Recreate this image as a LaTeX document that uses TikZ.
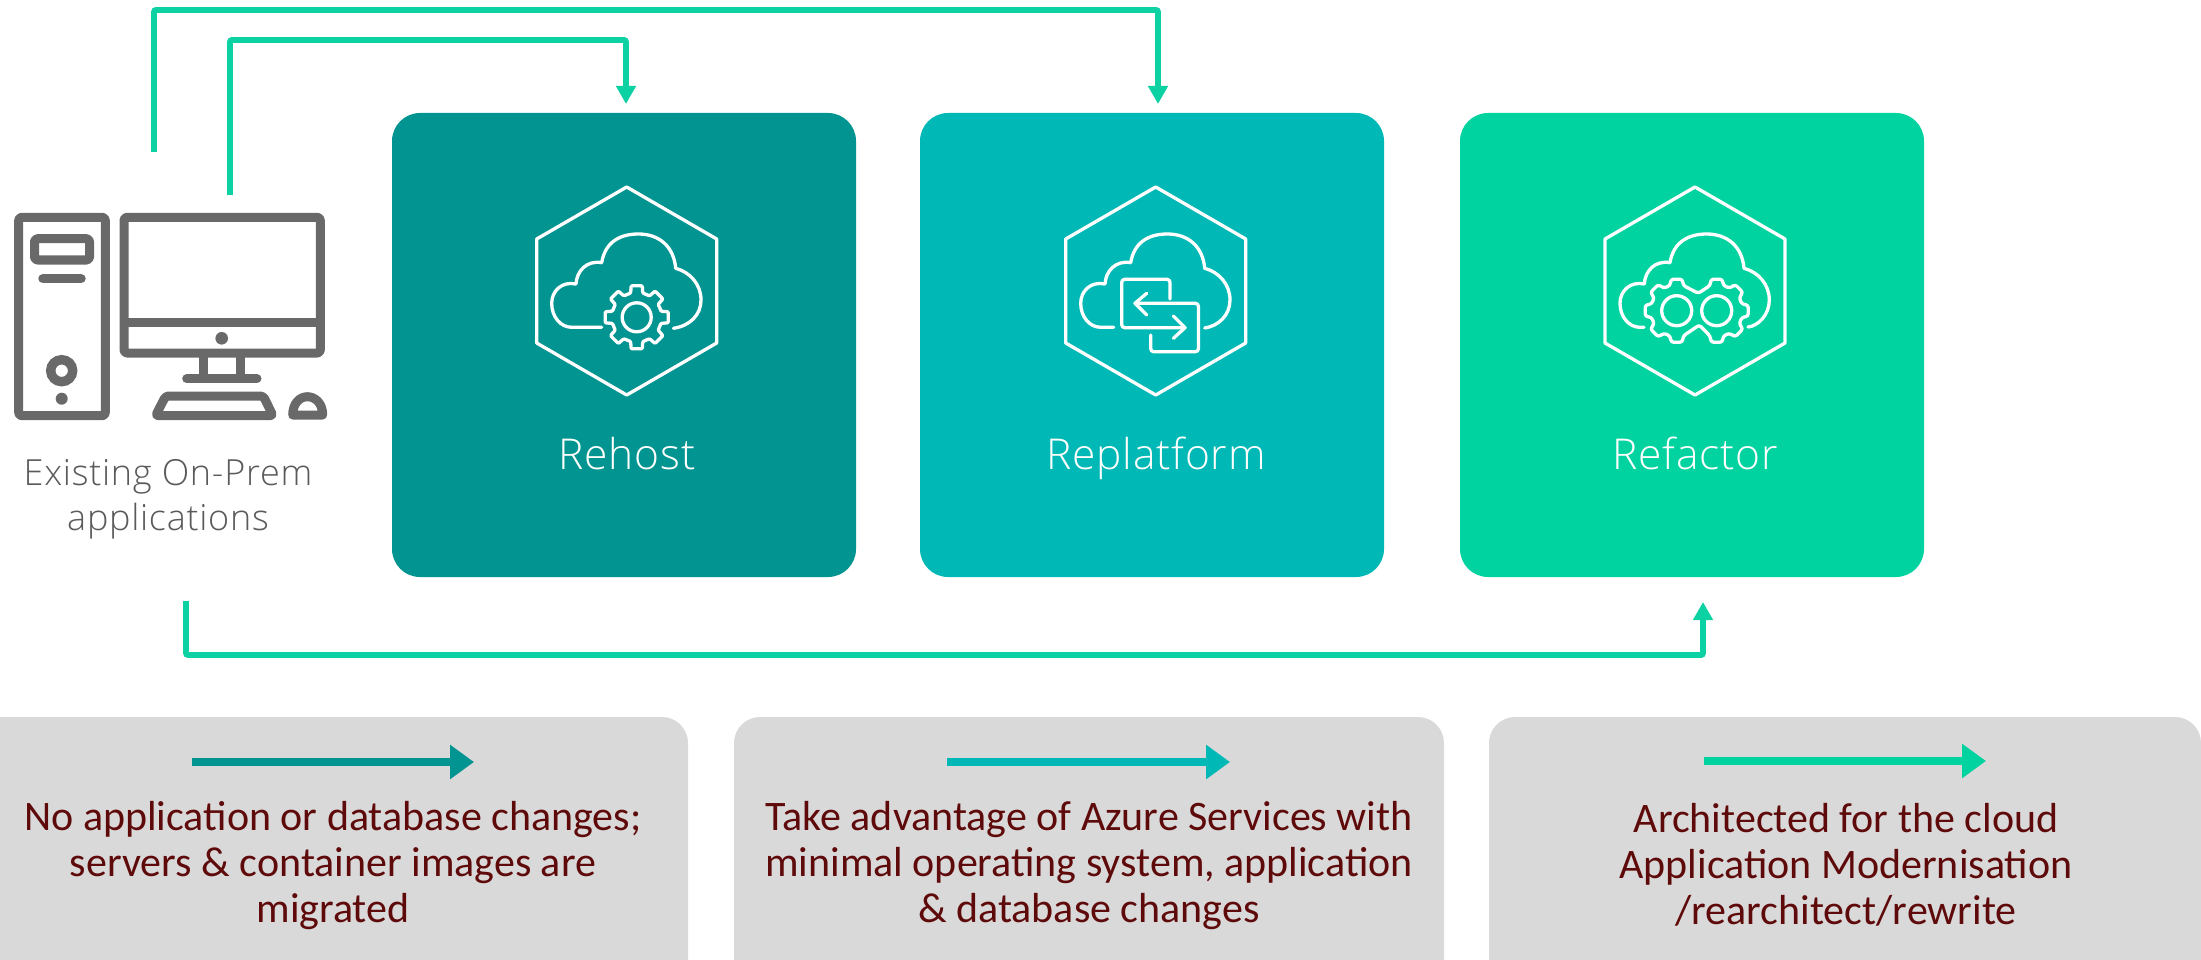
\documentclass[tikz,border=0pt]{standalone}
\usepackage{fontspec}
\setmainfont{Carlito}
\newfontfamily\lightfont[LetterSpace=2]{Open Sans Light}
\usetikzlibrary{arrows.meta,calc}
\definecolor{linegreen}{HTML}{0BD1A3}
\definecolor{teala}{HTML}{029490}
\definecolor{tealb}{HTML}{00B8B5}
\definecolor{tealc}{HTML}{00D3A0}
\definecolor{panelgrey}{HTML}{D9D9D9}
\definecolor{darkred}{HTML}{5F0A0A}
\definecolor{icongrey}{HTML}{696969}
\definecolor{labelgrey}{HTML}{5A5A5A}
\tikzset{
  x=1pt,y=-1pt,
  mainbox/.style={rounded corners=28pt,minimum width=464pt,minimum height=464pt,inner sep=0pt,outer sep=0pt},
  panel/.style={fill=panelgrey,rounded corners=26pt,draw=none},
  routeline/.style={draw=linegreen,line width=5.8pt,rounded corners=2pt,-{Triangle[length=18pt,width=19pt]}},
  legendarrow/.style={line width=8pt,-{Triangle[length=24pt,width=33pt,sep=0pt]}},
  iconline/.style={draw=white,line width=3.3pt,line join=round,line cap=round},
  pcline/.style={draw=icongrey,line width=9pt,line join=round,rounded corners=3pt},
  boxlabel/.style={text=white,font=\lightfont\fontsize{42.5}{48}\selectfont,inner sep=0pt,anchor=base},
  paneltext/.style={text=darkred,font=\fontsize{42}{46}\selectfont,align=center,inner sep=0pt},
  pclabel/.style={text=labelgrey,font=\lightfont\fontsize{36}{45}\selectfont,align=center,inner sep=0pt},
}
\newcommand{\hexagonicon}{\draw[iconline] (0,-104) -- (90,-52) -- (90,52) -- (0,104) -- (-90,52) -- (-90,-52) -- cycle;}
\newcommand{\cloudicon}[3]{\draw[iconline] (#1,#2) .. controls (63,35) and (74.3,24) .. (74.3,9) .. controls (74.3,-7) and (63,-19) .. (49,-22.7) .. controls (47,-45) and (32,-57) .. (11.7,-57) .. controls (-9,-57) and (-22,-47) .. (-25,-28.3) .. controls (-40,-31) and (-50,-20) .. (-50.7,-7) .. controls (-65,-10) and (-75,0) .. (-75,12.3) .. controls (-75,26) and (-66,36.3) .. (-55,36.3) -- (#3,36.3);}
\begin{document}
\begin{tikzpicture}
\useasboundingbox (0,0) rectangle (2201,960);
\clip (0,0) rectangle (2201,960);

% main boxes
\node[mainbox,fill=teala] (rehost) at (624,345) {};
\node[mainbox,fill=tealb] (replatform) at (1152,345) {};
\node[mainbox,fill=tealc] (refactor) at (1692,345) {};
\node[boxlabel] (rehosttext) at (627,469) {Rehost};
\node[boxlabel] (replatformtext) at (1156,469) {Replatform};
\node[boxlabel] (refactortext) at (1695,469) {Refactor};

% rehost icon
\begin{scope}[shift={(626.7,291)}]
  \hexagonicon
  \cloudicon{46.7}{37.3}{-25}
  \begin{scope}[shift={(10,26.3)}]
    \draw[iconline,rounded corners=1pt] (-20:25) \foreach \a in {0,45,...,315} { -- (\a-14:25) -- (\a-10:32) -- (\a+10:32) -- (\a+14:25) } -- cycle;
    \draw[iconline] (0,0) circle[radius=14.5pt];
  \end{scope}
\end{scope}

% replatform icon
\begin{scope}[shift={(1155.7,291)}]
  \hexagonicon
  \cloudicon{49}{37}{-42}
  \draw[iconline,rounded corners=3pt] (14.3,8) -- (14.3,-11.7) -- (-34,-11.7) -- (-34,36.7) -- (29.3,36.7);
  \draw[iconline,rounded corners=3pt] (-20.7,12.3) -- (42.7,12.3) -- (42.7,60.7) -- (-5,60.7) -- (-5,44);
  \draw[iconline] (-9,2.3) -- (-20.7,12.3) -- (-9,24);
  \draw[iconline] (17.7,25) -- (29.3,36.7) -- (17.7,47.3);
\end{scope}

% refactor icon
\begin{scope}[shift={(1695,291)}]
  \hexagonicon
  \cloudicon{53}{36}{-51}
  \draw[iconline,rounded corners=2.5pt] (4.3,34)
    \foreach \a in {90,135,180,225,270} { -- ([shift={(-18.3,19.7)}]\a-15:26) -- ([shift={(-18.3,19.7)}]\a-10:32) -- ([shift={(-18.3,19.7)}]\a+10:32) -- ([shift={(-18.3,19.7)}]\a+15:26) }
    -- (3.3,2.3)
    \foreach \a in {270,315,360,405,450} { -- ([shift={(21.7,19.7)}]\a-15:26) -- ([shift={(21.7,19.7)}]\a-10:32) -- ([shift={(21.7,19.7)}]\a+10:32) -- ([shift={(21.7,19.7)}]\a+15:26) }
    -- cycle;
  \draw[iconline] (-18.3,19.7) circle[radius=15pt];
  \draw[iconline] (21.7,19.7) circle[radius=15pt];
\end{scope}

% computer icon
\begin{scope}
  \draw[pcline] (18.7,217.3) rectangle (105.3,415.7);
  \draw[pcline] (34.5,238.7) rectangle (89.5,260);
  \draw[icongrey,line width=9.5pt,line cap=round] (43,278.7) -- (81,278.7);
  \draw[icongrey,line width=9.4pt] (61.7,370.7) circle[radius=11pt];
  \fill[icongrey] (61.7,398.7) circle[radius=6pt];
  \draw[pcline] (124,217.3) rectangle (320.3,353);
  \draw[icongrey,line width=9pt] (124,322.7) -- (320.3,322.7);
  \fill[icongrey] (221.7,338.3) circle[radius=6.3pt];
  \draw[icongrey,line width=9pt] (203.7,353) -- (203.7,378.7);
  \draw[icongrey,line width=9pt] (240.7,353) -- (240.7,378.7);
  \draw[icongrey,line width=9pt,line cap=round] (186.7,378.7) -- (257,378.7);
  \draw[pcline] (165.7,396) -- (263.3,396) -- (273,415.7) -- (155.5,415.7) -- cycle;
  \draw[icongrey,line width=9pt,line join=round] (292.7,415) .. controls (292.7,403) and (300,396.7) .. (307.3,396.7) .. controls (315,396.7) and (322.7,403) .. (322.7,415) -- cycle;
\end{scope}
\node[pclabel] (pctext) at (168,499) {Existing On-Prem\\applications};

% connectors
\coordinate (outerstart) at (154,152);
\coordinate (innerstart) at (230,195);
\coordinate (bottomstart) at (186,601);
\coordinate (rehostin) at (626,104);
\coordinate (replatformin) at (1158,104);
\coordinate (refactorin) at (1703,602);
\draw[routeline] (outerstart) -- (154,10) -- (1158,10) -- (replatformin);
\draw[routeline] (innerstart) -- (230,40) -- (626,40) -- (rehostin);
\draw[routeline] (bottomstart) -- (186,655) -- (1703,655) -- (refactorin);

% panels
\fill[panel] (-40,717) rectangle (688,990);
\fill[panel] (734,717) rectangle (1444,990);
\fill[panel] (1489,717) rectangle (2201,990);

\coordinate (la) at (192,762); \coordinate (lb) at (474,762);
\coordinate (lc) at (947,762); \coordinate (ld) at (1230,762);
\coordinate (le) at (1704,761); \coordinate (lf) at (1986,761);
\draw[legendarrow,teala] (la) -- (lb);
\draw[legendarrow,tealb] (lc) -- (ld);
\draw[legendarrow,tealc] (le) -- (lf);

\node[paneltext] (ta) at (333,866) {No application or database changes;\\servers \& container images are\\migrated};
\node[paneltext] (tb) at (1089,866) {Take advantage of Azure Services with\\minimal operating system, application\\\& database changes};
\node[paneltext] (tc) at (1846,865) {Architected for the cloud\\Application Modernisation\\/rearchitect/rewrite};
\end{tikzpicture}
\end{document}
